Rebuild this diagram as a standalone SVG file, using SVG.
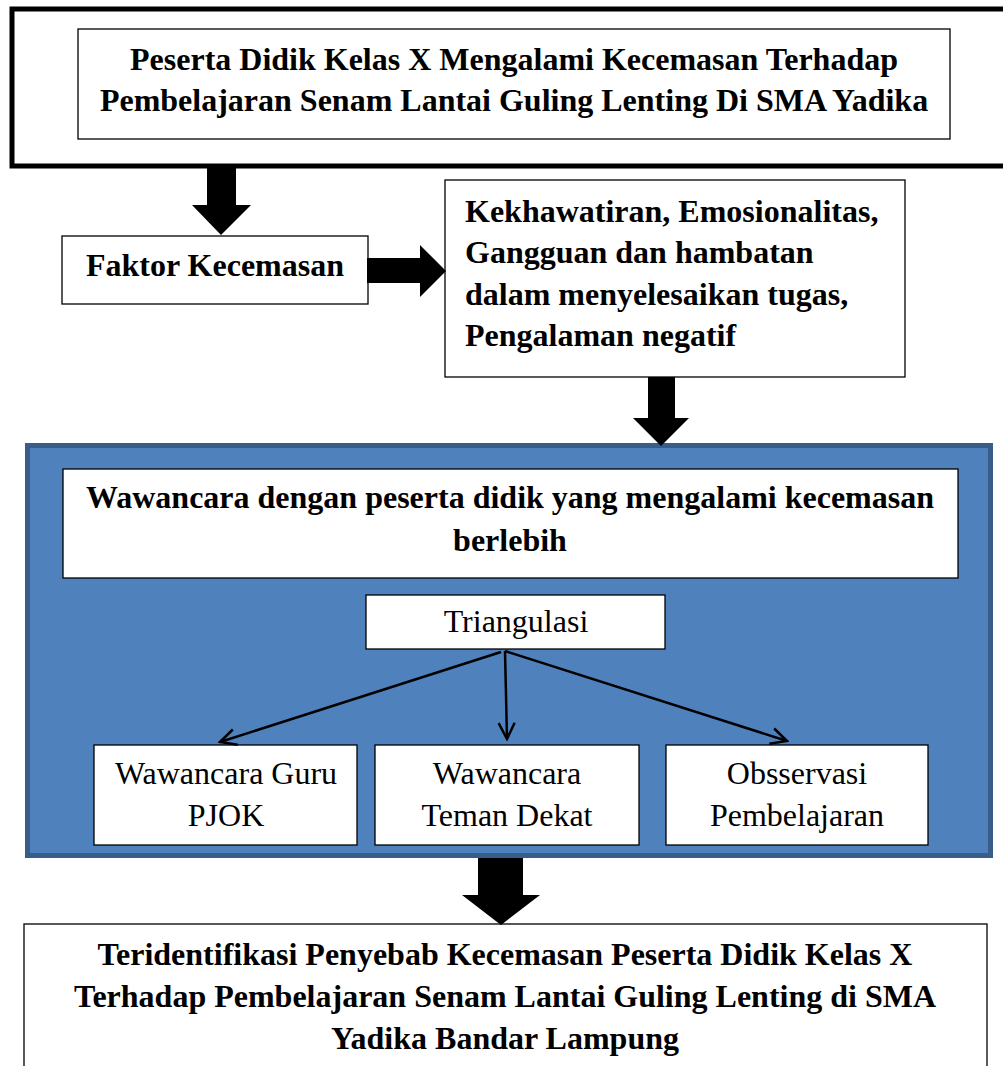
<svg xmlns="http://www.w3.org/2000/svg" width="1003" height="1066" viewBox="0 0 1003 1066">
<defs>
<style>
.box{fill:#fff;stroke:#000;stroke-width:1.3}
.b{font-family:"Liberation Serif","Times New Roman",serif;font-weight:bold;font-size:32px;fill:#000}
.n{font-family:"Liberation Serif","Times New Roman",serif;font-size:32px;fill:#000}
.conn{stroke:#000;stroke-width:2.5;fill:none}
.blk{fill:#000}
</style>
<marker id="open" viewBox="0 0 20 20" refX="18" refY="10" markerWidth="20" markerHeight="20" markerUnits="userSpaceOnUse" orient="auto">
<path d="M2,2 L18,10 L2,18" fill="none" stroke="#000" stroke-width="2.5"/>
</marker>
</defs>
<rect width="1003" height="1066" fill="#fff"/>

<g id="frame-top">
<rect x="12" y="9" width="1000" height="157" fill="#fff" stroke="#000" stroke-width="5"/>
</g>
<g id="node-top">
<rect class="box" x="78" y="29" width="872" height="110"/>
<text class="b" x="514" y="70" text-anchor="middle">Peserta Didik Kelas X Mengalami Kecemasan Terhadap</text>
<text class="b" x="514" y="111" text-anchor="middle">Pembelajaran Senam Lantai Guling Lenting Di SMA Yadika</text>
</g>
<g id="node-faktor">
<rect class="box" x="62" y="236" width="306" height="68"/>
<text class="b" x="215" y="276" text-anchor="middle">Faktor Kecemasan</text>
</g>
<g id="node-kekhawatiran">
<rect class="box" x="445" y="180" width="460" height="197"/>
<text class="b" x="465" y="222">Kekhawatiran, Emosionalitas,</text>
<text class="b" x="465" y="263">Gangguan dan hambatan</text>
<text class="b" x="465" y="305">dalam menyelesaikan tugas,</text>
<text class="b" x="465" y="346">Pengalaman negatif</text>
</g>
<g id="group-blue">
<rect x="27.5" y="445.5" width="963" height="410" fill="#4F81BD" stroke="#385D8A" stroke-width="5"/>
</g>
<g id="node-wawancara">
<rect class="box" x="63" y="469" width="895" height="109"/>
<text class="b" x="510" y="508" text-anchor="middle">Wawancara dengan peserta didik yang mengalami kecemasan</text>
<text class="b" x="510" y="551" text-anchor="middle">berlebih</text>
</g>
<g id="node-triangulasi">
<rect class="box" x="366" y="595" width="299" height="54"/>
<text class="n" x="516" y="632" text-anchor="middle">Triangulasi</text>
</g>
<g id="node-guru">
<rect class="box" x="94" y="745" width="263" height="100"/>
<text class="n" x="226" y="784" text-anchor="middle">Wawancara Guru</text>
<text class="n" x="226" y="826" text-anchor="middle">PJOK</text>
</g>
<g id="node-teman">
<rect class="box" x="375" y="745" width="264" height="100"/>
<text class="n" x="507" y="784" text-anchor="middle">Wawancara</text>
<text class="n" x="507" y="826" text-anchor="middle">Teman Dekat</text>
</g>
<g id="node-observasi">
<rect class="box" x="666" y="745" width="262" height="100"/>
<text class="n" x="797" y="784" text-anchor="middle">Obsservasi</text>
<text class="n" x="797" y="826" text-anchor="middle">Pembelajaran</text>
</g>
<g id="node-bottom">
<rect class="box" x="24" y="924" width="963" height="160"/>
<text class="b" x="505" y="965" text-anchor="middle">Teridentifikasi Penyebab Kecemasan Peserta Didik Kelas X</text>
<text class="b" x="505" y="1007" text-anchor="middle">Terhadap Pembelajaran Senam Lantai Guling Lenting di SMA</text>
<text class="b" x="505" y="1049" text-anchor="middle">Yadika Bandar Lampung</text>
</g>
<g id="connectors">
<polygon class="blk" points="207,168 236,168 236,205 251,205 221,235 192,205 207,205"/>
<polygon class="blk" points="367,258 420,258 420,245 446,271 420,297 420,283 367,283"/>
<polygon class="blk" points="648,377 675,377 675,418 689,418 661,446 633,418 648,418"/>
<polygon class="blk" points="478,858 523,858 523,895 540,895 501,925 462,895 478,895"/>
<line class="conn" x1="501" y1="652" x2="220" y2="742" marker-end="url(#open)"/>
<line class="conn" x1="505" y1="651" x2="507" y2="739" marker-end="url(#open)"/>
<line class="conn" x1="505" y1="651" x2="787" y2="741" marker-end="url(#open)"/>
</g>
</svg>
